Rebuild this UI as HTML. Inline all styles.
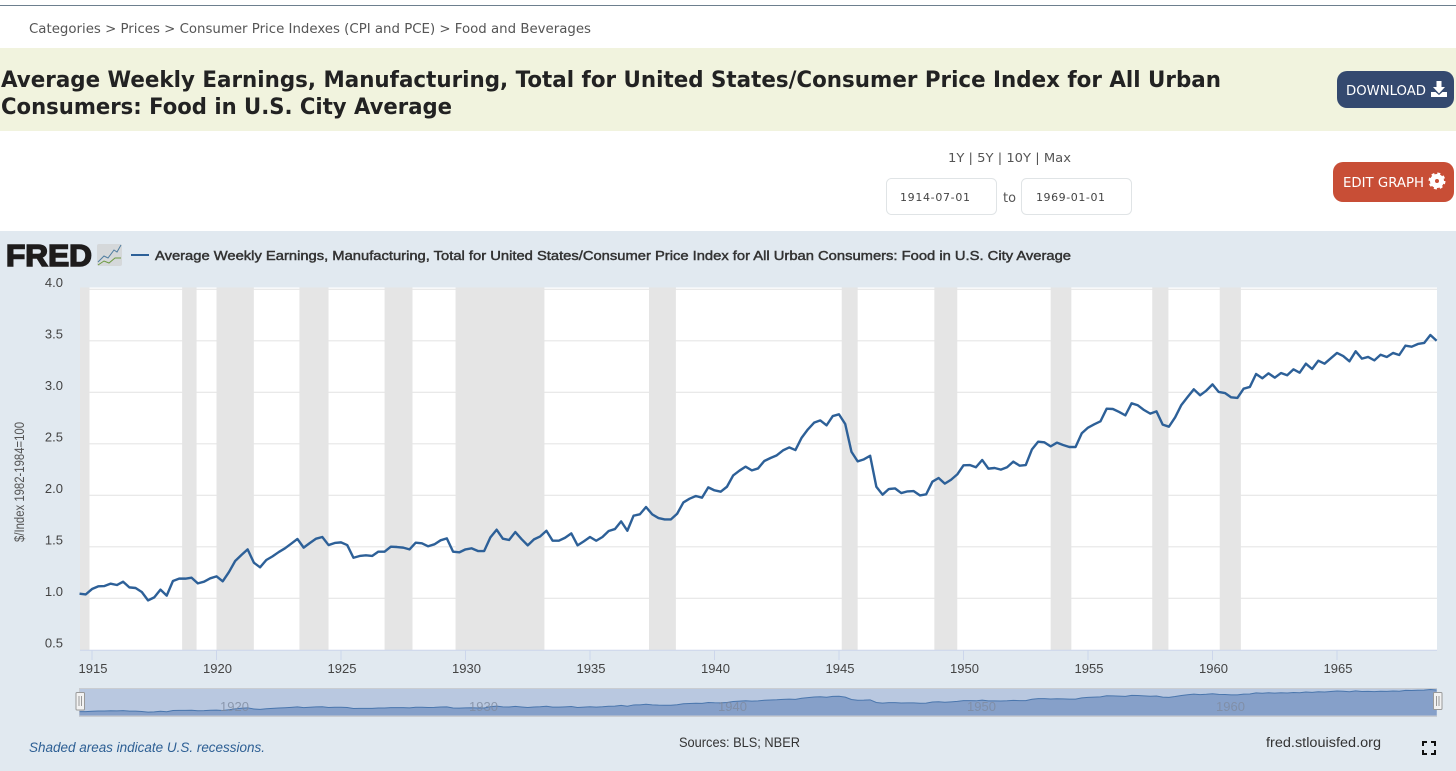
<!DOCTYPE html>
<html>
<head>
<meta charset="utf-8">
<title>Average Weekly Earnings, Manufacturing / CPI Food</title>
<style>
html,body{margin:0;padding:0;background:#fff;width:1456px;height:771px;overflow:hidden}
svg{display:block;position:absolute;left:0;top:0}
text{font-family:"Liberation Sans",sans-serif}
.vd{font-family:"DejaVu Sans","Liberation Sans",sans-serif}
</style>
</head>
<body>
<svg id="page" xmlns="http://www.w3.org/2000/svg" width="1456" height="771" viewBox="0 0 1456 771">
  <rect x="0" y="0" width="1456" height="771" fill="#ffffff"/>
  <rect x="0" y="5" width="1456" height="1" fill="#6d7f8e"/>
  <text class="vd" x="29" y="33" font-size="13" fill="#555" textLength="562" lengthAdjust="spacingAndGlyphs">Categories &gt; Prices &gt; Consumer Price Indexes (CPI and PCE) &gt; Food and Beverages</text>

  <rect x="0" y="48" width="1456" height="83" fill="#f1f3de"/>
  <text class="vd" x="1" y="87" font-size="22" font-weight="700" fill="#222" textLength="1220" lengthAdjust="spacingAndGlyphs">Average Weekly Earnings, Manufacturing, Total for United States/Consumer Price Index for All Urban</text>
  <text class="vd" x="1" y="114" font-size="22" font-weight="700" fill="#222" textLength="451" lengthAdjust="spacingAndGlyphs">Consumers: Food in U.S. City Average</text>

  <g>
    <rect x="1337" y="71" width="117" height="37" rx="10" fill="#34496f"/>
    <text class="vd" x="1346" y="95" font-size="13" fill="#fff" textLength="80" lengthAdjust="spacingAndGlyphs">DOWNLOAD</text>
    <g fill="#fff">
      <path d="M1436.5 81h5v6h3.5l-6 6.5-6-6.5h3.5z"/>
      <path d="M1431 92h4.5l3.5 3 3.500-3h4.500v5h-16z"/>
    </g>
  </g>

  <text class="vd" x="948" y="162" font-size="12" fill="#555" textLength="123" lengthAdjust="spacingAndGlyphs">1Y | 5Y | 10Y | Max</text>
  <g>
    <rect x="886.500" y="178.500" width="110" height="36" rx="5" fill="#fff" stroke="#e0e4e6"/>
    <text class="vd" x="900" y="201" font-size="11" fill="#444" textLength="70" lengthAdjust="spacing">1914-07-01</text>
  </g>
  <text class="vd" x="1003" y="202" font-size="13" fill="#555" textLength="13" lengthAdjust="spacingAndGlyphs">to</text>
  <g>
    <rect x="1021.500" y="178.500" width="110" height="36" rx="5" fill="#fff" stroke="#e0e4e6"/>
    <text class="vd" x="1036" y="201" font-size="11" fill="#444" textLength="69" lengthAdjust="spacing">1969-01-01</text>
  </g>

  <g>
    <rect x="1333" y="162" width="121" height="40" rx="10" fill="#c84e36"/>
    <text class="vd" x="1343" y="187" font-size="13" fill="#fff" textLength="81" lengthAdjust="spacingAndGlyphs">EDIT GRAPH</text>
    <g>
      <circle cx="1437" cy="181" r="4.500" fill="none" stroke="#fff" stroke-width="5"/>
      <circle cx="1437" cy="181" r="7.500" fill="none" stroke="#fff" stroke-width="2" stroke-dasharray="3 2.900"/>
    </g>
  </g>

  <rect x="0" y="231" width="1456" height="540" fill="#e1e9f0"/>

  <g>
    <text x="6" y="266" font-size="31" font-weight="700" fill="#1e1c1c" stroke="#1e1c1c" stroke-width="1.600" textLength="86" lengthAdjust="spacingAndGlyphs">FRED</text>
    <rect x="97" y="244" width="25" height="22" rx="2" fill="#d5d8da"/>
    <polyline points="98,262 104,256 108,258 114,250 117,252 121,245" fill="none" stroke="#4f7da0" stroke-width="1"/>
    <polyline points="98,265 104,261 109,263 115,258 121,258" fill="none" stroke="#6d9a42" stroke-width="1"/>
  </g>
  <line x1="131" y1="255" x2="149" y2="255" stroke="#2d6098" stroke-width="2"/>
  <text x="155" y="260" font-size="13" fill="#333" stroke="#333" stroke-width="0.450" textLength="916" lengthAdjust="spacingAndGlyphs">Average Weekly Earnings, Manufacturing, Total for United States/Consumer Price Index for All Urban Consumers: Food in U.S. City Average</text>

  <rect x="80" y="287.500" width="1357" height="362.500" fill="#ffffff"/>
  <g id="grid"></g>
  <g id="recessions"></g>
  <g id="yLabels"></g>
  <line x1="80" y1="650.300" x2="1437" y2="650.300" stroke="#ccd6eb" stroke-width="1"/>
  <g id="xAxis"></g>
  <path id="seriesLine" d="" fill="none" stroke="#2d6098" stroke-width="2.400" stroke-linejoin="round"/>
  <text transform="translate(24,482) rotate(-90)" text-anchor="middle" font-size="13.500" fill="#555" textLength="120" lengthAdjust="spacingAndGlyphs">$/Index 1982-1984=100</text>

  <g>
    <rect x="79" y="688" width="1358" height="29" fill="#c9ccd1"/>
    <rect x="80" y="689" width="1357" height="26.500" fill="#b9c8e0"/>
    <path id="navArea" d="" fill="#86a0c9"/>
    <path id="navLine" d="" fill="none" stroke="#4a76ad" stroke-width="1"/>
    <g id="navLabels"></g>
    <g>
      <rect x="76" y="692.500" width="8.500" height="17.500" rx="1" fill="#f2f2f2" stroke="#999"/>
      <path d="M79 696v10M81.500 696v10" stroke="#999" fill="none"/>
    </g>
    <g>
      <rect x="1433.500" y="692.500" width="8.500" height="17" rx="1" fill="#f2f2f2" stroke="#999"/>
      <path d="M1436.500 696v10M1439 696v10" stroke="#999" fill="none"/>
    </g>
  </g>

  <text x="29" y="752" font-size="13.500" font-style="italic" fill="#2d5f94" textLength="236" lengthAdjust="spacingAndGlyphs">Shaded areas indicate U.S. recessions.</text>
  <text x="679" y="747" font-size="13.500" fill="#333" textLength="121" lengthAdjust="spacingAndGlyphs">Sources: BLS; NBER</text>
  <text x="1266" y="747" font-size="13.500" fill="#333" textLength="115" lengthAdjust="spacingAndGlyphs">fred.stlouisfed.org</text>
  <path d="M1423 746v-4h4M1431 742h4v4M1435 750v4h-4M1427 754h-4v-4" fill="none" stroke="#111" stroke-width="2"/>
</svg>

<script>
const startYear = 1914.5;
const earnings = [
1.045,1.038,1.090,1.116,1.119,1.142,1.129,1.161,1.106,1.100,1.061,0.980,1.009,1.084,1.026,1.168,
1.191,1.191,1.200,1.145,1.161,1.194,1.213,1.165,1.255,1.362,1.420,1.475,1.346,1.301,1.372,1.407,
1.449,1.485,1.530,1.576,1.492,1.537,1.579,1.595,1.517,1.537,1.543,1.517,1.394,1.411,1.417,1.411,
1.453,1.453,1.501,1.498,1.492,1.475,1.540,1.534,1.505,1.524,1.563,1.582,1.453,1.446,1.475,1.485,
1.459,
1.459,1.591,1.666,1.579,1.566,1.643,1.575,1.514,1.572,1.601,1.656,1.559,1.559,1.588,1.630,1.514,
1.553,1.595,1.559,1.595,1.653,1.672,1.747,1.656,1.802,1.815,1.886,1.815,1.779,1.766,1.766,1.821,
1.931,1.967,1.993,1.977,2.077,2.048,2.035,2.083,2.193,2.239,2.278,2.242,2.261,2.333,2.362,2.388,
2.436,2.465,2.439,2.559,2.640,2.705,2.727,2.679,2.769,2.786,2.692,2.423,2.329,2.349,2.384,2.083,
2.006,2.061,2.067,2.022,2.038,2.041,1.999,2.009,2.132,2.168,2.113,2.151,2.203,
2.291,2.294,2.272,2.343,2.259,2.265,2.249,2.272,2.327,2.288,2.294,2.446,2.521,2.514,2.475,2.511,
2.488,2.469,2.469,2.602,2.657,2.689,2.718,2.841,2.838,2.809,2.776,2.893,2.874,2.828,2.793,2.815,
2.686,2.666,2.757,2.877,2.954,3.029,2.971,3.016,3.077,3.003,2.993,2.951,2.945,3.035,3.052,3.178,
3.136,3.184,3.142,3.187,3.165,3.223,3.191,3.278,3.226,3.307,3.278,3.330,3.382,3.352,3.301,3.398,
3.327,3.343,3.310,3.365,3.343,3.382,3.362,3.453,3.443,3.469,3.479,3.556,3.501
];
const yTicks = ["0.5","1.0","1.5","2.0","2.5","3.0","3.5","4.0"];
const xTicks = ["1915","1920","1925","1930","1935","1940","1945","1950","1955","1960","1965"];
const navYears = ["1920","1930","1940","1950","1960"];
const recessionStarts = [1913.0,1918.62,1920.0,1923.33,1926.75,1929.6,1937.37,1945.11,1948.83,1953.5,1957.58,1960.29];
const recessionEnds = [1914.9,1919.2,1921.5,1924.5,1927.87,1933.17,1938.45,1945.75,1949.75,1954.33,1958.23,1961.14];

const SVGNS = 'http://www.w3.org/2000/svg';
const xScale = t => 92 + (t - 1915) * 24.9;
const yScale = v => 649.8 - (v - 0.5) * 103;
const navY = v => 720.8 - 8.8 * v;
const plotLeft = 80, plotRight = 1437, plotTop = 287.5, plotBottom = 650;
const dateAt = i => startYear + i / 4;

function mk(tag, parentId, attrs, text) {
  const el = document.createElementNS(SVGNS, tag);
  for (const k in attrs) el.setAttribute(k, attrs[k]);
  if (text !== undefined) el.textContent = text;
  document.getElementById(parentId).appendChild(el);
  return el;
}

yTicks.forEach(t => {
  const y = yScale(parseFloat(t));
  if (parseFloat(t) > 0.5) {
    const g = mk('line', 'grid', {x1: plotLeft, x2: plotRight, y1: y, y2: y, stroke: '#e6e6e6', 'stroke-width': 1.2});
    
    
  }
  const l = mk('text', 'yLabels', {x: 63, y: y - 2.2, 'text-anchor': 'end', 'font-size': 13, fill: '#444'}, t);
  
  
});

recessionStarts.forEach((s, i) => {
  const x0 = Math.max(plotLeft, xScale(s));
  const x1 = xScale(recessionEnds[i]);
  const r = mk('rect', 'recessions', {x: x0, y: plotTop, width: x1 - x0, height: plotBottom - plotTop, fill: '#e5e5e5'});
  
  
});

xTicks.forEach(t => {
  const x = xScale(parseFloat(t));
  const m = mk('line', 'xAxis', {x1: x, x2: x, y1: 650, y2: 660, stroke: '#ccd6eb'});
  
  
  const l = mk('text', 'xAxis', {x: x + 1, y: 673, 'text-anchor': 'middle', 'font-size': 13, fill: '#444'}, t);
  
  
});

const linePts = earnings.map((v, i) => xScale(dateAt(i)).toFixed(2) + ',' + yScale(v).toFixed(2));
document.getElementById('seriesLine').setAttribute('d', 'M' + linePts.join('L'));

const navPts = earnings.map((v, i) => xScale(dateAt(i)).toFixed(2) + ',' + navY(v).toFixed(2));
document.getElementById('navLine').setAttribute('d', 'M' + navPts.join('L'));
document.getElementById('navArea').setAttribute('d',
  'M' + navPts.join('L') + 'L' + xScale(dateAt(earnings.length - 1)).toFixed(2) + ',715.5L' + xScale(dateAt(0)).toFixed(2) + ',715.5Z');

navYears.forEach(t => {
  const l = mk('text', 'navLabels', {x: xScale(parseFloat(t)) + 18, y: 711, 'text-anchor': 'middle', 'font-size': 13, fill: '#7f8ba0', opacity: 0.8}, t);
  
  
});
</script>
</body>
</html>
